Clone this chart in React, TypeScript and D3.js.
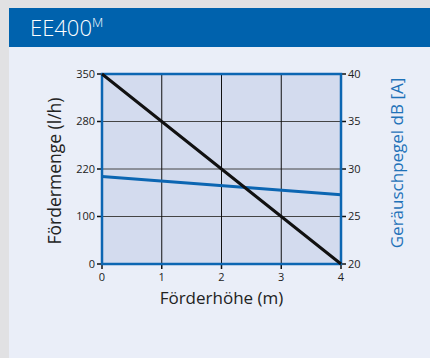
import React from "react";
import * as d3 from "d3";

const heights = [0, 1, 2, 3, 4];
const flowValues = [350, 280, 220, 100, 0];
const flowTicks = [0, 100, 220, 280, 350];
const noiseHeights = [0, 4];
const noiseValues = [29.2, 27.3];
const noiseTicks = [20, 25, 30, 35, 40];
const xTicks = [0, 1, 2, 3, 4];

const W = 430, H = 358;
const L = 102, R = 341, T = 74, B = 264;

export default function App() {
  const x = d3.scaleLinear().domain([0, 4]).range([L, R]);
  const yFlow = d3.scaleLinear().domain(flowTicks).range(flowTicks.map((_, i) => B - (i * (B - T)) / (flowTicks.length - 1)));
  const yNoise = d3.scaleLinear().domain([20, 40]).range([B, T]);
  const flowLine = d3.line<number>().x((_, i) => x(heights[i])).y((d) => yFlow(d))(flowValues) || "";
  const noiseLine = d3.line<number>().x((_, i) => x(noiseHeights[i])).y((d) => yNoise(d))(noiseValues) || "";
  const font = "'Open Sans', 'Noto Sans', sans-serif";
  const blue = "#0c66b2";
  return (
    <svg width={W} height={H} style={{ position: "absolute", left: 0, top: 0 }} fontFamily={font}>
      <rect x={0} y={0} width={W} height={H} fill="#e1e1e3" />
      <rect x={9} y={8} width={W - 9} height={H - 8} fill="#eaeef8" />
      <rect x={9} y={8} width={W - 9} height={39} fill="#0062ad" />
      <text x={30} y={36} fill="#ffffff" fontSize={22} fontWeight={300}>
        EE400<tspan fontSize={13} dy={-9}>M</tspan>
      </text>
      <rect x={L} y={T} width={R - L} height={B - T} fill="#d3dbee" />
      {flowTicks.slice(1, -1).map((t) => (
        <line key={"h" + t} x1={L} x2={R} y1={yFlow(t)} y2={yFlow(t)} stroke="#444" strokeWidth={1} />
      ))}
      {xTicks.slice(1, -1).map((t) => (
        <line key={"v" + t} x1={x(t)} x2={x(t)} y1={T} y2={B} stroke="#111" strokeWidth={1} />
      ))}
      {flowTicks.map((t) => (
        <g key={"lt" + t}>
          <line x1={L - 5} x2={L} y1={yFlow(t)} y2={yFlow(t)} stroke="#111" strokeWidth={1.5} />
          <text x={L - 7} y={yFlow(t)} dy="0.35em" textAnchor="end" fontSize={11} fill="#222">{t}</text>
        </g>
      ))}
      {noiseTicks.map((t) => (
        <g key={"rt" + t}>
          <line x1={R} x2={R + 5} y1={yNoise(t)} y2={yNoise(t)} stroke="#111" strokeWidth={1.5} />
          <text x={R + 7} y={yNoise(t)} dy="0.35em" textAnchor="start" fontSize={11} fill="#222">{t}</text>
        </g>
      ))}
      {xTicks.map((t) => (
        <g key={"xt" + t}>
          <line x1={x(t)} x2={x(t)} y1={B} y2={B + 5} stroke="#111" strokeWidth={1.5} />
          <text x={x(t)} y={B + 17} textAnchor="middle" fontSize={11} fill="#222">{t}</text>
        </g>
      ))}
      <rect x={L} y={T} width={R - L} height={B - T} fill="none" stroke={blue} strokeWidth={2.5} />
      <path d={noiseLine} fill="none" stroke={blue} strokeWidth={3} />
      <path d={flowLine} fill="none" stroke="#111" strokeWidth={3} />
      <text x={(L + R) / 2} y={304} textAnchor="middle" fontSize={17} fill="#222">Förderhöhe (m)</text>
      <text transform={`translate(61,${(T + B) / 2 + 2}) rotate(-90)`} textAnchor="middle" fontSize={17.5} fill="#222">Fördermenge (l/h)</text>
      <text transform={`translate(403,${(T + B) / 2 - 6}) rotate(-90)`} textAnchor="middle" fontSize={17} fill="#1f72b8">Geräuschpegel dB [A]</text>
    </svg>
  );
}
